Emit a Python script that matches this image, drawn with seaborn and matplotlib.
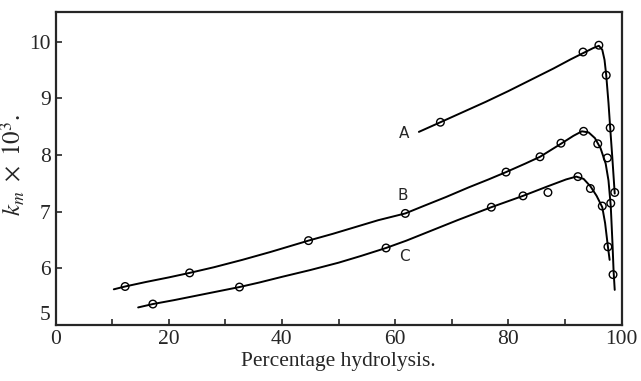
import matplotlib
matplotlib.use("Agg")
import matplotlib.pyplot as plt
import seaborn as sns
import numpy as np
from matplotlib.ticker import MultipleLocator

# measured points (percentage hydrolysis, k_m x 10^3)
a_x = [68.0, 93.2, 96.0, 97.3, 98.0, 98.8]
a_y = [8.58, 9.82, 9.94, 9.41, 8.48, 7.34]
b_x = [12.3, 23.7, 44.7, 61.8, 79.6, 85.6, 89.3, 93.3, 95.8, 97.5, 98.1, 98.5]
b_y = [5.68, 5.92, 6.49, 6.97, 7.70, 7.97, 8.21, 8.42, 8.20, 7.95, 7.15, 5.89]
c_x = [17.2, 32.5, 58.4, 77.0, 82.6, 87.0, 92.3, 94.5, 96.6, 97.6]
c_y = [5.37, 5.67, 6.36, 7.08, 7.28, 7.34, 7.62, 7.41, 7.10, 6.38]

# hand-drawn curves
a_curve_x = [64.2, 68.0, 72, 76, 80, 84, 88, 91, 93.2, 95.0, 96.0, 96.6, 97.0, 97.3, 97.7, 98.0, 98.4, 98.8]
a_curve_y = [8.41, 8.58, 8.76, 8.94, 9.13, 9.33, 9.53, 9.69, 9.80, 9.89, 9.93, 9.86, 9.68, 9.41, 8.92, 8.48, 7.92, 7.32]
b_curve_x = [10.3, 12.3, 16, 20, 23.7, 28, 33, 38, 44.7, 49, 53, 57, 61.8, 65, 69, 73, 76.5, 79.6, 83, 85.6,
             89.3, 91.5, 93.0, 94.2, 95.3, 96.3, 97.2, 97.7, 98.1, 98.4, 98.6, 98.8]
b_curve_y = [5.63, 5.68, 5.76, 5.84, 5.92, 6.02, 6.15, 6.29, 6.49, 6.61, 6.73, 6.85, 6.97, 7.10, 7.26, 7.43, 7.57,
             7.70, 7.85, 7.97, 8.20, 8.34, 8.42, 8.40, 8.30, 8.12, 7.85, 7.55, 7.10, 6.45, 5.95, 5.62]
c_curve_x = [14.6, 17.2, 21, 25, 29, 32.5, 36, 40, 45, 50, 54, 58.4, 62, 66, 71, 77.0, 82.6, 87, 90.2, 92.0,
             93.3, 94.5, 95.6, 96.6, 97.1, 97.6, 97.9]
c_curve_y = [5.31, 5.37, 5.44, 5.52, 5.60, 5.67, 5.75, 5.85, 5.97, 6.10, 6.22, 6.36, 6.49, 6.65, 6.85, 7.08,
             7.28, 7.45, 7.57, 7.62, 7.58, 7.45, 7.28, 7.08, 6.80, 6.38, 6.15]

curve_labels = ["A", "B", "C"]
label_x = [61.5, 61.4, 61.6]
label_y = [8.38, 7.28, 6.21]

sns.set_style("ticks")
plt.rcParams["font.family"] = ["Liberation Serif", "DejaVu Serif"]
plt.rcParams["mathtext.fontset"] = "stix"

fig = plt.figure(figsize=(6.41, 3.81), dpi=100)
ax = fig.add_axes([0.0866, 0.147, 0.883, 0.822])

for cx, cy in [(a_curve_x, a_curve_y), (b_curve_x, b_curve_y), (c_curve_x, c_curve_y)]:
    sns.lineplot(x=cx, y=cy, ax=ax, color="black", linewidth=1.4, sort=False, estimator=None)

for px, py in [(a_x, a_y), (b_x, b_y), (c_x, c_y)]:
    sns.scatterplot(x=px, y=py, ax=ax, marker="o", s=30, fc="none", ec="black", linewidth=1.0, zorder=3)

for lab, lx, ly in zip(curve_labels, label_x, label_y):
    ax.text(lx, ly, lab, family="DejaVu Sans", fontsize=11, ha="center", va="center")

ax.set_xlim(0, 100)
ax.set_ylim(5.0, 10.53)
ax.xaxis.set_major_locator(MultipleLocator(20))
ax.xaxis.set_minor_locator(MultipleLocator(10))
ax.set_yticks([5, 6, 7, 8, 9, 10])
ax.tick_params(axis="both", which="both", direction="in", labelsize=15.5)
ax.tick_params(axis="both", which="major", length=4, width=1.2)
ax.tick_params(axis="x", which="minor", length=4, width=1.2)
ax.yaxis.get_major_ticks()[0].label1.set_va("bottom")

for sp in ax.spines.values():
    sp.set_linewidth(1.6)

ax.set_xlabel("Percentage hydrolysis.", fontsize=15.5, labelpad=2)
ax.set_ylabel(r"$k_m\ \times\ 10^3$.", fontsize=18)
ax.yaxis.set_label_coords(-0.05, 0.51)

plt.savefig("out.png", dpi=100)
plt.close()
